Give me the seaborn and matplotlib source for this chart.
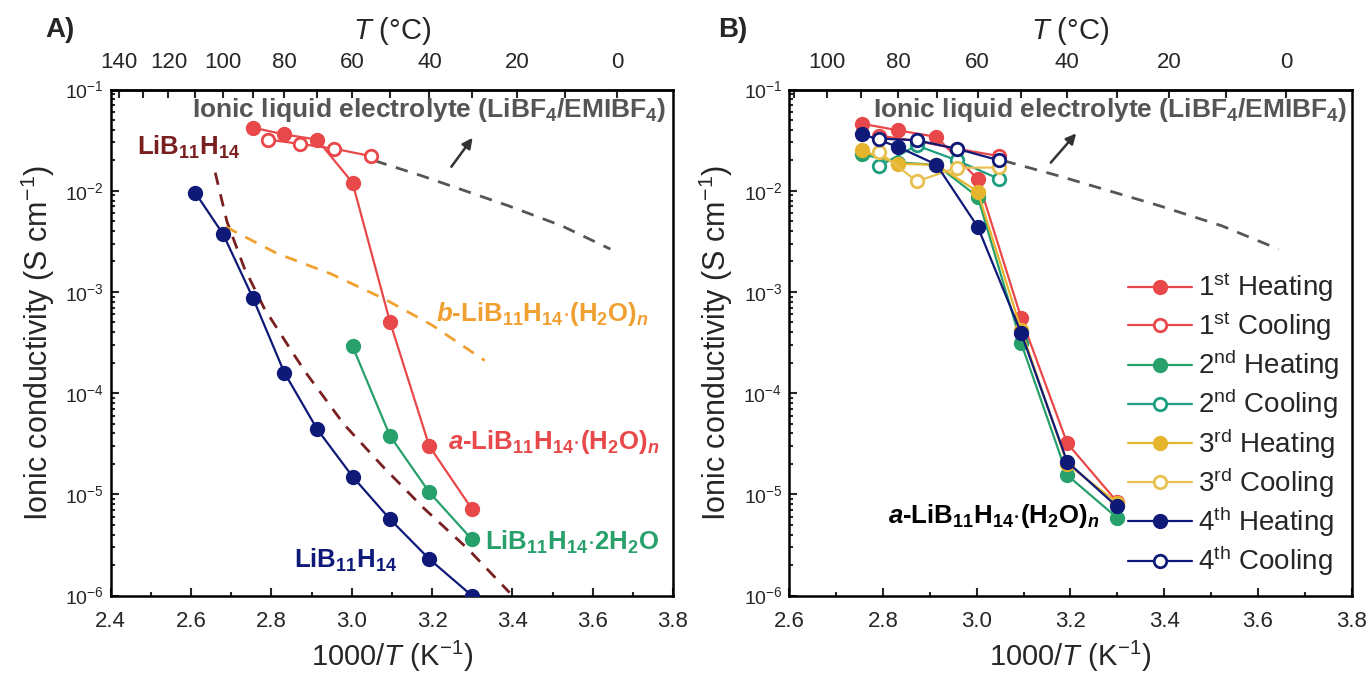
import numpy as np
import matplotlib
matplotlib.use("Agg")
import matplotlib.pyplot as plt
import seaborn as sns
from matplotlib.ticker import LogLocator, MultipleLocator, FixedLocator, NullFormatter

# ---------------- data ----------------
# x = 1000/T (K^-1), y = ionic conductivity (S cm^-1)
x_heat = [2.754, 2.832, 2.914, 3.002, 3.095, 3.193, 3.299]   # 90..30 C
x_cool = [2.792, 2.872, 2.957, 3.047]                        # 85..55 C

# panel A
x_lib = [2.610, 2.680, 2.754, 2.832, 2.914, 3.002, 3.095, 3.193, 3.299]
y_lib = [9.6e-3, 3.7e-3, 8.7e-4, 1.6e-4, 4.4e-5, 1.5e-5, 5.7e-6, 2.3e-6, 1.0e-6]

y_a_heat = [0.042, 0.036, 0.032, 0.012, 5.1e-4, 3.0e-5, 7.2e-6]
y_a_cool = [0.032, 0.029, 0.026, 0.022]

x_2h2o = [3.002, 3.095, 3.193, 3.299]
y_2h2o = [2.9e-4, 3.8e-5, 1.05e-5, 3.6e-6]

x_lib_fit = [2.660, 2.689, 2.732, 2.782, 2.856, 2.890, 2.981, 3.081, 3.181, 3.289, 3.393]
y_lib_fit = [1.51e-2, 5.0e-3, 1.74e-3, 6.9e-4, 2.4e-4, 1.51e-4, 4.9e-5, 1.82e-5, 7.2e-6, 2.9e-6, 1.07e-6]

x_b = [2.686, 2.814, 2.948, 3.082, 3.200, 3.331]
y_b = [4.4e-3, 2.4e-3, 1.51e-3, 8.5e-4, 4.7e-4, 2.1e-4]

x_il = [3.057, 3.173, 3.390, 3.523, 3.644]
y_il = [0.0198, 0.0141, 0.0071, 0.0045, 0.00265]

# panel B: four heating / cooling cycles
h1 = [0.046, 0.0395, 0.034, 0.013, 5.5e-4, 3.2e-5, 8.5e-6]
c1 = [0.035, 0.031, 0.026, 0.022]
h2 = [0.023, 0.019, 0.018, 0.0087, 3.1e-4, 1.55e-5, 5.9e-6]
c2 = [0.0176, 0.028, 0.020, 0.0131]
h3 = [0.025, 0.0185, 0.018, 0.0098, 4.2e-4, 2.0e-5, 8.3e-6]
c3 = [0.024, 0.0124, 0.0168, 0.017]
h4 = [0.0366, 0.0271, 0.0181, 4.4e-3, 3.9e-4, 2.1e-5, 7.6e-6]
c4 = [0.0327, 0.0315, 0.026, 0.020]

cycle_labels = [r"1$^{\mathrm{st}}$ Heating", r"1$^{\mathrm{st}}$ Cooling",
                r"2$^{\mathrm{nd}}$ Heating", r"2$^{\mathrm{nd}}$ Cooling",
                r"3$^{\mathrm{rd}}$ Heating", r"3$^{\mathrm{rd}}$ Cooling",
                r"4$^{\mathrm{th}}$ Heating", r"4$^{\mathrm{th}}$ Cooling"]

RED = "#E8484A"
NAVY = "#0F1A78"
GREEN = "#27A06B"
TEAL = "#1E9E80"
GOLD = "#E6B52E"
GOLD2 = "#E8C050"
ORANGE = "#F0A030"
DARKRED = "#7A1F1F"
GREY = "#555555"

# ---------------- style ----------------
sns.set_theme(style="ticks")
plt.rcParams["font.family"] = ["Liberation Sans", "DejaVu Sans"]
plt.rcParams["mathtext.fontset"] = "custom"
plt.rcParams["mathtext.rm"] = "Liberation Sans"
plt.rcParams["mathtext.it"] = "Liberation Sans:italic"
plt.rcParams["mathtext.bf"] = "Liberation Sans:bold"
plt.rcParams["mathtext.bfit"] = "Liberation Sans:italic:bold"


def k_to_c(x):
    x = np.asarray(x, dtype=float)
    with np.errstate(divide="ignore", invalid="ignore"):
        return 1000.0 / x - 273.15


def c_to_k(t):
    t = np.asarray(t, dtype=float)
    with np.errstate(divide="ignore", invalid="ignore"):
        return 1000.0 / (t + 273.15)


def series(ax, x, y, color, filled=True, label=None, z=3):
    sns.lineplot(x=x, y=y, ax=ax, color=color, marker="o",
                 markersize=10 if filled else 9,
                 markerfacecolor=color if filled else "white",
                 markeredgecolor=color, markeredgewidth=1 if filled else 2,
                 linewidth=1.6, sort=False, estimator=None, label=label, zorder=z)


def dashed(ax, x, y, color):
    sns.lineplot(x=x, y=y, ax=ax, color=color, linewidth=2,
                 linestyle=(0, (4.5, 3.5)), sort=False, estimator=None, zorder=2)


def style_axes(ax, xmin, top_major, top_minor):
    ax.set_yscale("log")
    ax.set_ylim(1e-6, 1e-1)
    ax.set_xlim(xmin, 3.8)
    ax.xaxis.set_major_locator(MultipleLocator(0.2))
    ax.xaxis.set_minor_locator(MultipleLocator(0.1))
    ax.xaxis.set_major_formatter(matplotlib.ticker.FormatStrFormatter("%.1f"))
    ax.yaxis.set_major_locator(LogLocator(base=10, numticks=10))
    ax.yaxis.set_minor_locator(LogLocator(base=10, subs=np.arange(2, 10), numticks=10))
    ax.yaxis.set_minor_formatter(NullFormatter())
    ax.tick_params(which="both", direction="in", top=False, right=False, width=1.5)
    ax.tick_params(which="major", length=6)
    ax.tick_params(which="minor", length=3)
    ax.tick_params(axis="x", labelsize=16, pad=11)
    ax.tick_params(axis="y", labelsize=14, pad=5)
    for s in ax.spines.values():
        s.set_linewidth(1.8)
        s.set_color("black")
    ax.set_xlabel("1000/$T$ (K$^{-1}$)", fontsize=21, labelpad=5)
    ax.set_ylabel("Ionic conductivity (S cm$^{-1}$)", fontsize=22, labelpad=6)

    sec = ax.secondary_xaxis("top", functions=(k_to_c, c_to_k))
    sec.set_xticks(top_major)
    sec.xaxis.set_minor_locator(FixedLocator(top_minor))
    sec.tick_params(which="both", direction="in", width=1.5, labelsize=16, pad=12)
    sec.tick_params(which="major", length=6)
    sec.tick_params(which="minor", length=6)
    sec.spines["top"].set_linewidth(1.8)
    sec.set_xlabel("$T$ (°C)", fontsize=21, labelpad=9)
    return sec


fig, (axA, axB) = plt.subplots(1, 2, figsize=(13.68, 6.73), dpi=100)
fig.subplots_adjust(left=0.081, right=0.988, bottom=0.115, top=0.867, wspace=0.207)

# ---------------- panel A ----------------
dashed(axA, x_il, y_il, GREY)
dashed(axA, x_lib_fit, y_lib_fit, DARKRED)
dashed(axA, x_b, y_b, ORANGE)
series(axA, x_heat, y_a_heat, RED)
series(axA, x_cool, y_a_cool, RED, filled=False)
series(axA, x_2h2o, y_2h2o, GREEN)
series(axA, x_lib, y_lib, NAVY)

style_axes(axA, 2.4, [140, 120, 100, 80, 60, 40, 20, 0],
           [130, 110, 90, 70, 50, 30, 10])

axA.annotate("", xy=(3.305, 10 ** -1.455), xytext=(3.244, 10 ** -1.785),
             arrowprops=dict(arrowstyle="-|>", color="#333333", lw=1.8, mutation_scale=15))
axA.text(3.784, 10 ** -1.2, r"Ionic liquid electrolyte (LiBF$_{\mathbf{4}}$/EMIBF$_{\mathbf{4}}$)",
         ha="right", va="center", color=GREY, fontsize=19, fontweight="bold")
axA.text(2.465, 10 ** -1.57, r"$\mathbf{LiB_{11}H_{14}}$", ha="left", va="center",
         color=DARKRED, fontsize=18.5)
axA.text(3.211, 10 ** -3.22, r"$\mathbfit{b}$-$\mathbf{LiB_{11}H_{14}{\cdot}(H_{2}O)}_{\mathbfit{n}}$",
         ha="left", va="center", color=ORANGE, fontsize=18.5, fontweight="bold")
axA.text(3.240, 10 ** -4.48, r"$\mathbfit{a}$-$\mathbf{LiB_{11}H_{14}{\cdot}(H_{2}O)}_{\mathbfit{n}}$",
         ha="left", va="center", color=RED, fontsize=18.5, fontweight="bold")
axA.text(3.332, 10 ** -5.47, r"$\mathbf{LiB_{11}H_{14}{\cdot}2H_{2}O}$", ha="left", va="center",
         color=GREEN, fontsize=18.5)
axA.text(2.857, 10 ** -5.65, r"$\mathbf{LiB_{11}H_{14}}$", ha="left", va="center",
         color=NAVY, fontsize=18.5)

# ---------------- panel B ----------------
dashed(axB, x_il, y_il, GREY)
cycles = [(h1, RED, True), (c1, RED, False), (h2, GREEN, True), (c2, TEAL, False),
          (h3, GOLD, True), (c3, GOLD2, False), (h4, NAVY, True), (c4, NAVY, False)]
for (vals, col, filled), lab in zip(cycles, cycle_labels):
    xs = x_heat if filled else x_cool
    series(axB, xs, vals, col, filled=filled, label=lab)

style_axes(axB, 2.6, [100, 80, 60, 40, 20, 0], [110, 90, 70, 50, 30, 10])

axB.annotate("", xy=(3.216, 10 ** -1.413), xytext=(3.154, 10 ** -1.743),
             arrowprops=dict(arrowstyle="-|>", color="#333333", lw=1.8, mutation_scale=15))
axB.text(3.791, 10 ** -1.2, r"Ionic liquid electrolyte (LiBF$_{\mathbf{4}}$/EMIBF$_{\mathbf{4}}$)",
         ha="right", va="center", color=GREY, fontsize=19, fontweight="bold")
axB.text(3.262, 10 ** -5.21, r"$\mathbfit{a}$-$\mathbf{LiB_{11}H_{14}{\cdot}(H_{2}O)}_{\mathbfit{n}}$",
         ha="right", va="center", color="black", fontsize=18.5, fontweight="bold")

handles, labels = axB.get_legend_handles_labels()
axB.legend(handles, labels, loc="upper left", bbox_to_anchor=(0.603, 0.642),
           frameon=False, fontsize=20, handlelength=2.3, handletextpad=0.2,
           labelspacing=0.17, borderpad=0, borderaxespad=0)

fig.text(0.033, 0.955, "A)", fontsize=20, fontweight="bold", va="center")
fig.text(0.525, 0.955, "B)", fontsize=20, fontweight="bold", va="center")

plt.savefig("out.png", dpi=100)
plt.close()
